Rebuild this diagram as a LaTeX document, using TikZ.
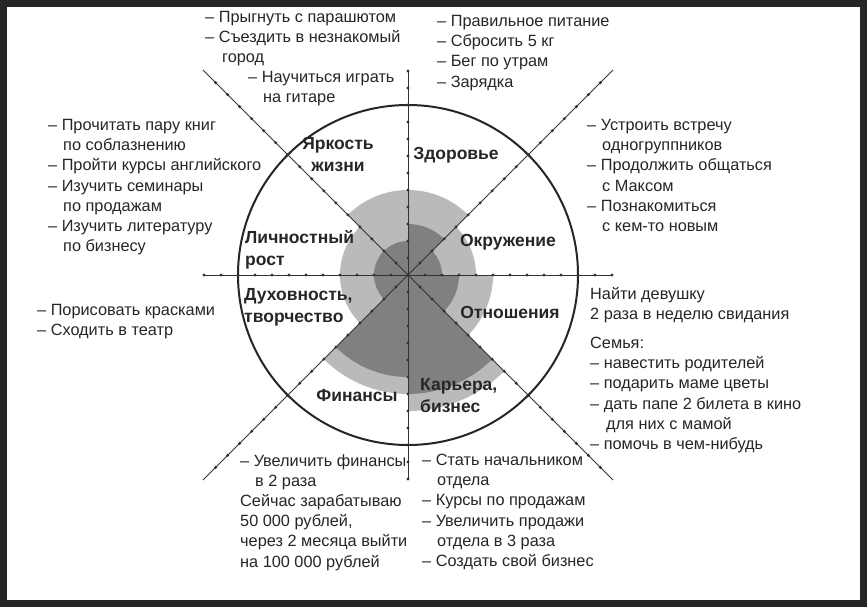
\documentclass[tikz,border=0pt]{standalone}
\usepackage{fontspec}
\setmainfont{Liberation Sans}
\begin{document}
\begin{tikzpicture}[x=1pt,y=-1pt,
  txt/.style={anchor=north west,inner sep=0pt,align=left,font=\fontsize{16.3}{20.2}\selectfont,text=black!85},
  lbl/.style={inner sep=0pt,align=left,font=\fontsize{17.5}{22}\selectfont\bfseries,text=black!85},
  light/.style={fill=black!27},
  dark/.style={fill=black!50},
  spoke/.style={draw=black!80,line width=0.8pt},
  tick/.style={circle,fill=black!80,inner sep=0pt,minimum size=3.4pt}]
\fill[white] (0,0) rectangle (867,607);
\draw[black!85,line width=7pt] (3.5,3.5) rectangle (863.5,603.5);
\begin{scope}[shift={(408,275)},x=17pt,y=17pt]
  \foreach \a/\r in {0/4,45/5,90/5,135/4,180/4,225/7,270/8,315/5}
    \fill[light] (0,0) -- (\a:\r) arc (\a:\a+45:\r) -- cycle;
  \foreach \a/\r in {0/2,45/3,90/2,135/2,180/2,225/6,270/7,315/3}
    \fill[dark] (0,0) -- (\a:\r) arc (\a:\a+45:\r) -- cycle;
  \draw[black!85,line width=2pt] (0,0) circle (10);
  \coordinate (c) at (0,0);
  \foreach \a in {0,90,180,270}{
    \coordinate (e\a) at (\a:12.06);
    \draw[spoke] (c) -- (e\a);
    \foreach \k in {1,...,12} \node[tick] at (\a:\k) {};}
  \foreach \a in {45,135,225,315}{
    \coordinate (e\a) at (\a:17.06);
    \draw[spoke] (c) -- (e\a);
    \foreach \k in {1,...,16} \node[tick] at (\a:\k) {};}
  \node[tick] at (c) {};
\end{scope}
\node[lbl,align=center] (l1) at (338,155) {Яркость\\жизни};
\node[lbl] (l2) at (456,155) {Здоровье};
\node[lbl,anchor=west] (l3) at (245,250) {Личностный\\рост};
\node[lbl] (l4) at (508,242) {Окружение};
\node[lbl,anchor=west] (l5) at (244,307) {Духовность,\\творчество};
\node[lbl] (l6) at (510,312) {Отношения};
\node[lbl] (l7) at (357,396) {Финансы};
\node[lbl,anchor=west] (l8) at (420,396) {Карьера,\\бизнес};
\node[txt] (t1) at (205,11) {– Прыгнуть с парашютом\\– Съездить в незнакомый\\\hspace*{17pt}город};
\node[txt] (t1b) at (248,71) {– Научиться играть\\\hspace*{15pt}на гитаре};
\node[txt] (t2) at (437,15) {– Правильное питание\\– Сбросить 5 кг\\– Бег по утрам\\– Зарядка};
\node[txt] (t3) at (48,119) {– Прочитать пару книг\\\hspace*{15pt}по соблазнению\\– Пройти курсы английского\\– Изучить семинары\\\hspace*{15pt}по продажам\\– Изучить литературу\\\hspace*{15pt}по бизнесу};
\node[txt] (t4) at (587,119) {– Устроить встречу\\\hspace*{15pt}одногруппников\\– Продолжить общаться\\\hspace*{15pt}с Максом\\– Познакомиться\\\hspace*{15pt}с кем-то новым};
\node[txt] (t5) at (37,304) {– Порисовать красками\\– Сходить в театр};
\node[txt] (t6) at (590,287) {Найти девушку\\2 раза в неделю свидания};
\node[txt] (t7) at (590,337) {Семья:\\– навестить родителей\\– подарить маме цветы\\– дать папе 2 билета в кино\\\hspace*{16pt}для них с мамой\\– помочь в чем-нибудь};
\node[txt] (t8) at (240,454) {– Увеличить финансы\\\hspace*{15pt}в 2 раза\\Сейчас зарабатываю\\50 000 рублей,\\через 2 месяца выйти\\на 100 000 рублей};
\node[txt] (t9) at (422,454) {– Стать начальником\\\hspace*{15pt}отдела\\– Курсы по продажам\\– Увеличить продажи\\\hspace*{15pt}отдела в 3 раза\\– Создать свой бизнес};
\end{tikzpicture}
\end{document}
